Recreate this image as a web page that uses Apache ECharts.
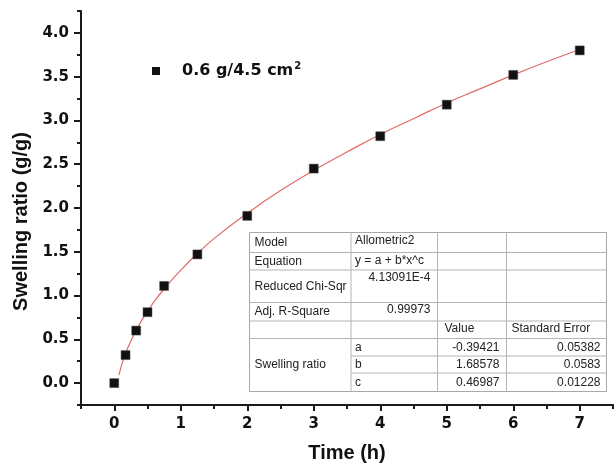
<!DOCTYPE html>
<html>
<head>
<meta charset="utf-8">
<title>Swelling ratio</title>
<script src="https://cdn.jsdelivr.net/npm/echarts@6.0.0/dist/echarts.min.js"></script>
<style>
  html, body { margin: 0; padding: 0; background: #fff; }
</style>
</head>
<body>
<div id="main" style="width: 615px; height: 472px;"></div>
<script type="text/javascript">
// measured points (time in h, swelling ratio g/g)
var seriesName = '0.6 g/4.5 cm2';
var timeH = [0, 0.17, 0.33, 0.5, 0.75, 1.25, 2, 3, 4, 5, 6, 7];
var swelling = [0, 0.32, 0.6, 0.81, 1.11, 1.47, 1.91, 2.45, 2.82, 3.18, 3.52, 3.8];

// fitted curve
var fitX = [0.07, 0.15, 0.25, 0.4, 0.6, 0.8, 1, 1.25, 1.5, 2, 2.5, 3, 3.5, 4, 4.5, 5, 5.5, 6, 6.5, 7];
var fitY = [0.09, 0.30, 0.48, 0.70, 0.93, 1.12, 1.29, 1.48, 1.65, 1.94, 2.20, 2.43, 2.64, 2.84, 3.02, 3.20, 3.36, 3.52, 3.67, 3.81];

// tick labels
var xTicks = [0, 1, 2, 3, 4, 5, 6, 7];
var xMinorTicks = [-0.5, 0.5, 1.5, 2.5, 3.5, 4.5, 5.5, 6.5, 7.5];
var yTicks = [0, 0.5, 1, 1.5, 2, 2.5, 3, 3.5, 4];
var yMinorTicks = [-0.25, 0.25, 0.75, 1.25, 1.75, 2.25, 2.75, 3.25, 3.75, 4.25];

// fit report table
var infoLabels = ['Model', 'Equation', 'Reduced Chi-Sqr', 'Adj. R-Square'];
var infoValues = ['Allometric2', 'y = a + b*x^c', '4.13091E-4', '0.99973'];
var paramHeader = ['Value', 'Standard Error'];
var paramNames = ['a', 'b', 'c'];
var paramValues = ['-0.39421', '1.68578', '0.46987'];
var paramErrors = ['0.05382', '0.0583', '0.01228'];

var myChart = echarts.init(document.getElementById('main'), null, { renderer: 'canvas' });

var pts = timeH.map(function (t, i) { return [t, swelling[i]]; });
var fit = fitX.map(function (t, i) { return [t, fitY[i]]; });

// table layout (pixels)
var colX = [249.5, 351, 437.5, 506.5, 606.5];
var rowY = [232.5, 252.5, 270, 302.5, 321, 338.5, 356, 373, 391.5];
var lineCol = '#b4b4b4';
var tFont = { fontFamily: 'Liberation Sans', fontSize: 12, fill: '#222' };

function txt(s, x, y, align) {
  return {
    type: 'text', z: 10,
    style: Object.assign({ text: s, x: x, y: y, align: align || 'left', verticalAlign: 'middle' }, tFont)
  };
}
function hline(y, x1, x2) {
  return { type: 'line', z: 9, shape: { x1: x1, y1: y, x2: x2, y2: y }, style: { stroke: lineCol, lineWidth: 1 } };
}
function vline(x, y1, y2) {
  return { type: 'line', z: 9, shape: { x1: x, y1: y1, x2: x, y2: y2 }, style: { stroke: lineCol, lineWidth: 1 } };
}

var table = [];
table.push({ type: 'rect', z: 8, shape: { x: colX[0], y: rowY[0], width: colX[4] - colX[0], height: rowY[8] - rowY[0] },
  style: { fill: '#fff', stroke: '#a8a8a8', lineWidth: 1 } });
for (var r = 1; r <= 5; r++) table.push(hline(rowY[r], colX[0], colX[4]));
table.push(hline(rowY[6], colX[1], colX[4]));
table.push(hline(rowY[7], colX[1], colX[4]));
for (var c = 1; c <= 3; c++) table.push(vline(colX[c], rowY[0], rowY[8]));

for (var i = 0; i < infoLabels.length; i++) {
  var cy = (rowY[i] + rowY[i + 1]) / 2;
  table.push(txt(infoLabels[i], colX[0] + 5, cy));
}
table.push(txt(infoValues[0], colX[1] + 4, (rowY[0] + rowY[1]) / 2 - 1.5));
table.push(txt(infoValues[1], colX[1] + 4, (rowY[1] + rowY[2]) / 2 - 1));
table.push(txt(infoValues[2], colX[2] - 7, rowY[2] + 8, 'right'));
table.push(txt(infoValues[3], colX[2] - 7, (rowY[3] + rowY[4]) / 2 - 2, 'right'));
table.push(txt(paramHeader[0], colX[2] + 7, (rowY[4] + rowY[5]) / 2 - 1));
table.push(txt(paramHeader[1], colX[3] + 5, (rowY[4] + rowY[5]) / 2 - 1));
table.push(txt('Swelling ratio', colX[0] + 5, (rowY[5] + rowY[8]) / 2));
for (var k = 0; k < paramNames.length; k++) {
  var py = (rowY[5 + k] + rowY[6 + k]) / 2;
  table.push(txt(paramNames[k], colX[1] + 4, py));
  table.push(txt(paramValues[k], colX[3] - 7, py, 'right'));
  table.push(txt(paramErrors[k], colX[4] - 6, py, 'right'));
}

var axisCol = '#1a1a1a';
var tickFont = { fontFamily: 'DejaVu Sans', fontWeight: 'bold', fontSize: 15, color: '#111' };
var nameFont = { fontFamily: 'Liberation Sans', fontWeight: 'bold', fontSize: 20, color: '#111' };

var option = {
  animation: false,
  backgroundColor: '#fff',
  grid: { left: 81, right: 2, top: 11, bottom: 67, containLabel: false, outerBoundsMode: 'none' },
  legend: {
    data: [seriesName],
    left: 147, top: 56,
    icon: 'rect', itemWidth: 8, itemHeight: 8,
    itemStyle: { color: '#111', opacity: 1, borderWidth: 0 },
    formatter: function () { return '{t|0.6 g/4.5 cm}{s|2}'; },
    textStyle: {
      rich: {
        t: { fontFamily: 'DejaVu Sans', fontWeight: 'bold', fontSize: 16, color: '#111', padding: [0, 0, 0, 17], lineHeight: 20 },
        s: { fontFamily: 'DejaVu Sans', fontWeight: 'bold', fontSize: 10, color: '#111', verticalAlign: 'top', lineHeight: 20, padding: [0, 0, 0, 1] }
      }
    }
  },
  xAxis: [
    {
      type: 'value', min: -0.5, max: 7.5, position: 'bottom',
      name: 'Time (h)', nameLocation: 'middle', nameGap: 38, nameTextStyle: nameFont,
      axisLine: { show: true, onZero: false, lineStyle: { color: axisCol, width: 2 } },
      axisTick: { show: true, customValues: xTicks, length: 6, lineStyle: { color: axisCol, width: 2 } },
      axisLabel: Object.assign({ customValues: xTicks, margin: 12, formatter: function (v) { return String(v); } }, tickFont),
      splitLine: { show: false }
    },
    {
      type: 'value', min: -0.5, max: 7.5, position: 'bottom',
      axisLine: { show: false, onZero: false },
      axisTick: { show: true, customValues: xMinorTicks, length: 4, lineStyle: { color: axisCol, width: 2 } },
      axisLabel: { show: false },
      splitLine: { show: false }
    }
  ],
  yAxis: [
    {
      type: 'value', min: -0.25, max: 4.25, position: 'left',
      name: 'Swelling ratio (g/g)', nameLocation: 'middle', nameGap: 48,
      nameTextStyle: Object.assign({ padding: [0, 27, 0, 0] }, nameFont),
      axisLine: { show: true, onZero: false, lineStyle: { color: axisCol, width: 2 } },
      axisTick: { show: true, customValues: yTicks, length: 7, lineStyle: { color: axisCol, width: 2 } },
      axisLabel: Object.assign({ customValues: yTicks, margin: 12, formatter: function (v) { return v.toFixed(1); } }, tickFont),
      splitLine: { show: false }
    },
    {
      type: 'value', min: -0.25, max: 4.25, position: 'left',
      axisLine: { show: false, onZero: false },
      axisTick: { show: true, customValues: yMinorTicks, length: 4, lineStyle: { color: axisCol, width: 2 } },
      axisLabel: { show: false },
      splitLine: { show: false }
    }
  ],
  series: [
    {
      name: 'fit',
      type: 'line',
      xAxisIndex: 0, yAxisIndex: 0,
      data: fit,
      smooth: true,
      showSymbol: false,
      lineStyle: { color: '#e06a6a', width: 1.2 },
      z: 2
    },
    {
      name: seriesName,
      type: 'scatter',
      xAxisIndex: 0, yAxisIndex: 0,
      data: pts,
      symbol: 'rect',
      symbolSize: 9,
      itemStyle: { color: '#111', opacity: 1, borderColor: '#555', borderWidth: 0.5 },
      z: 3
    }
  ],
  graphic: table
};

myChart.setOption(option);
</script>
</body>
</html>
